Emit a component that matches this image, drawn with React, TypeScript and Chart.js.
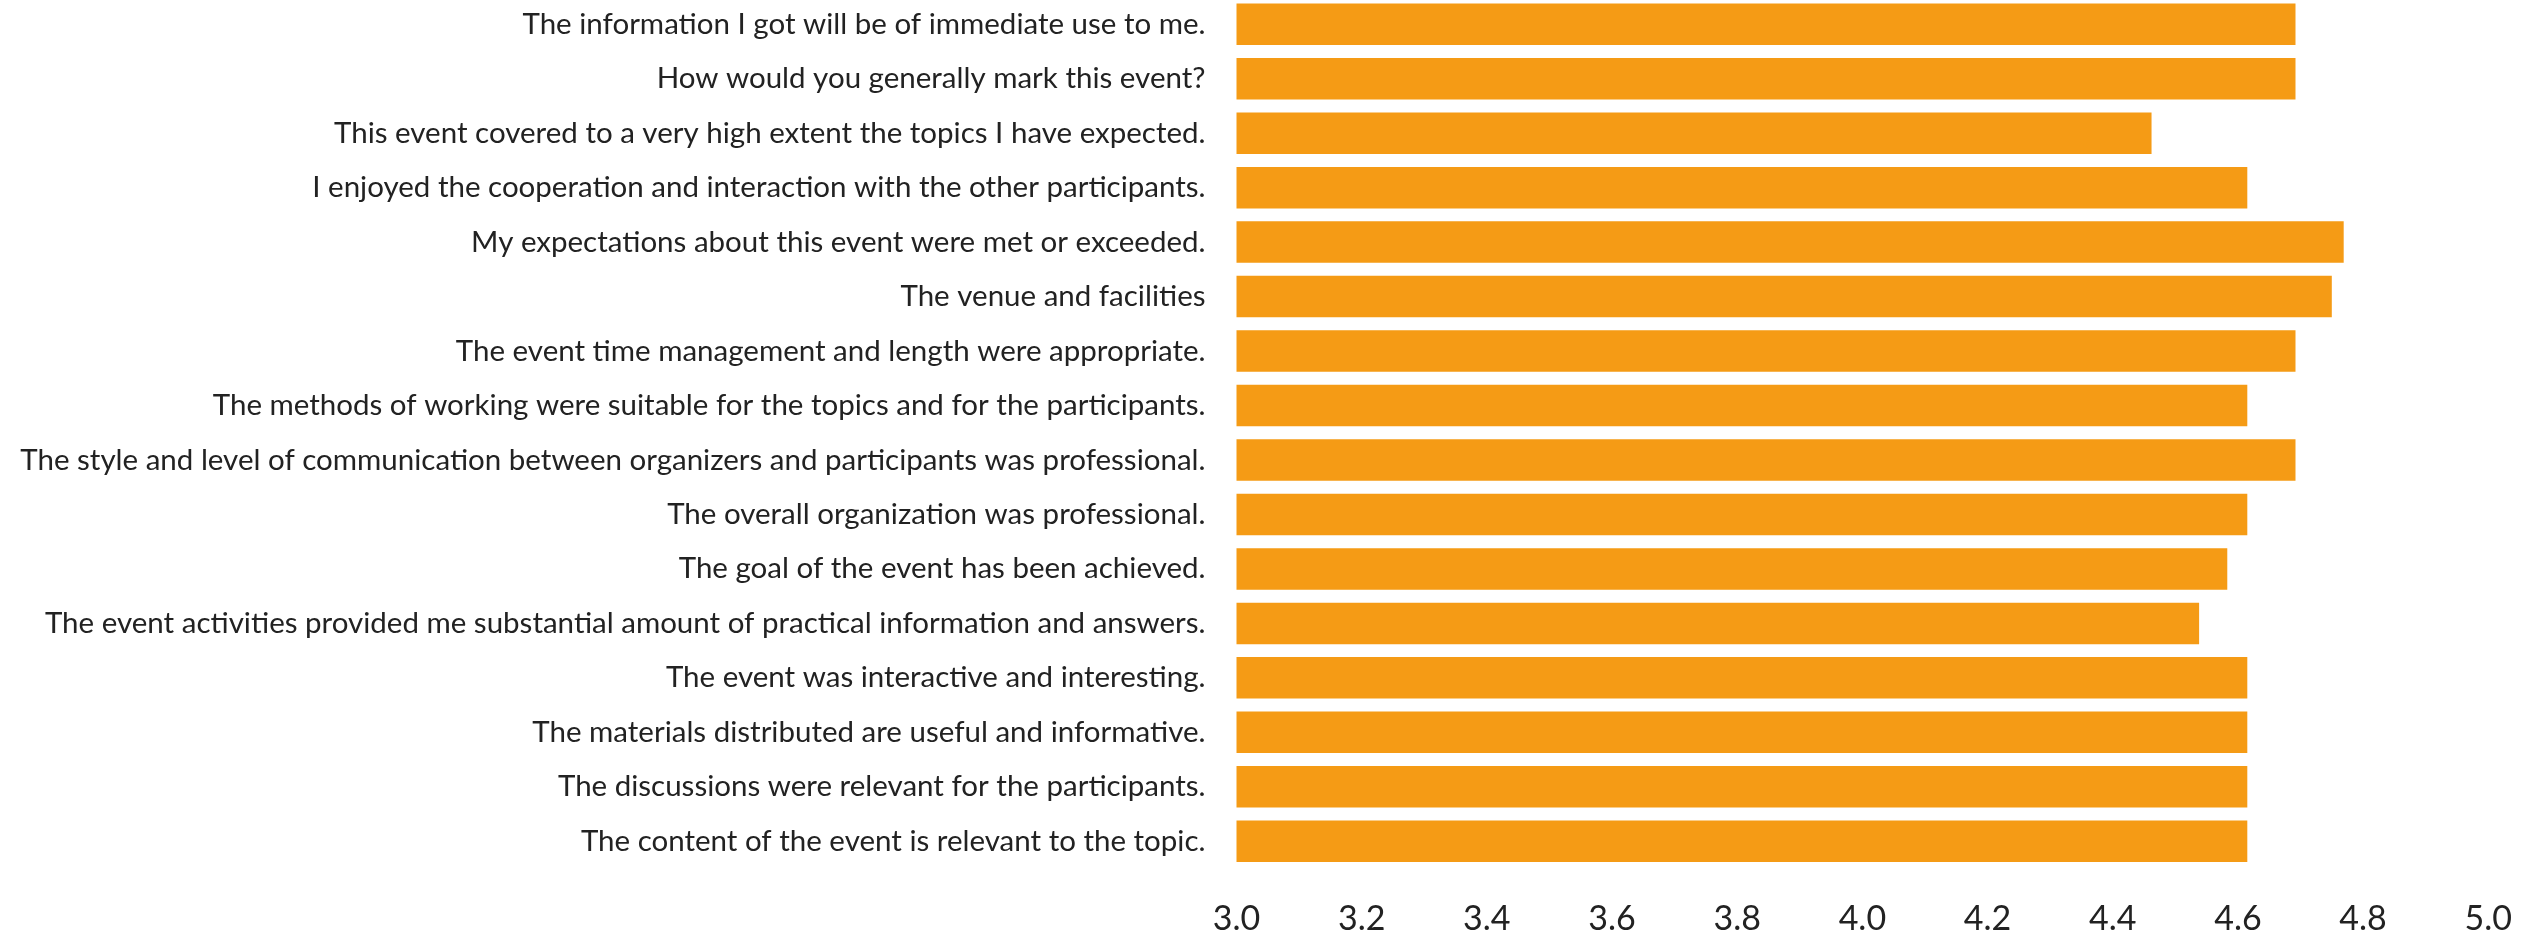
import React, { useEffect, useRef } from "react";
import { Chart, registerables } from "chart.js";

Chart.register(...registerables);

const categories: string[] = [
  "The information I got will be of immediate use to me.",
  "How would you generally mark this event?",
  "This event covered to a very high extent the topics I have expected.",
  "I enjoyed the cooperation and interaction with the other participants.",
  "My expectations about this event were met or exceeded.",
  "The venue and facilities",
  "The event time management and length were appropriate.",
  "The methods of working were suitable for the topics and for the participants.",
  "The style and level of communication between organizers and participants was professional.",
  "The overall organization was professional.",
  "The goal of the event has been achieved.",
  "The event activities provided me substantial amount of practical information and answers.",
  "The event was interactive and interesting.",
  "The materials distributed are useful and informative.",
  "The discussions were relevant for the participants.",
  "The content of the event is relevant to the topic.",
];

const scores: number[] = [
  4.692, 4.692, 4.462, 4.615, 4.769, 4.75, 4.692, 4.615, 4.692, 4.615, 4.583, 4.538, 4.615,
  4.615, 4.615, 4.615,
];

const xMin = 3.0;
const xMax = 5.0;
const xStep = 0.2;

export default function App() {
  const ref = useRef<HTMLCanvasElement | null>(null);

  useEffect(() => {
    if (!ref.current) return;
    const chart = new Chart(ref.current, {
      type: "bar",
      data: {
        labels: categories,
        datasets: [
          {
            data: scores,
            backgroundColor: "#F59B15",
            borderWidth: 0,
            barPercentage: 0.762,
            categoryPercentage: 1,
          },
        ],
      },
      options: {
        indexAxis: "y",
        animation: false,
        responsive: false,
        maintainAspectRatio: false,
        layout: { padding: { left: 0, right: 35, top: 0, bottom: 0 } },
        plugins: {
          legend: { display: false },
          tooltip: { enabled: false },
          title: { display: false },
        },
        scales: {
          x: {
            min: xMin,
            max: xMax,
            grid: { display: false, drawTicks: false },
            border: { display: false },
            ticks: {
              stepSize: xStep,
              color: "#222",
              padding: 30,
              font: { family: "Lato", size: 34 },
              callback: (v: any) => Number(v).toFixed(1),
            },
            afterFit: (s: any) => {
              s.height = 62.5;
            },
          },
          y: {
            grid: { display: false, drawTicks: false },
            border: { display: false },
            ticks: {
              color: "#222",
              padding: 31,
              autoSkip: false,
              font: { family: "Lato", size: 29.5 },
            },
            afterFit: (s: any) => {
              s.width = 1236.5;
              s.paddingTop = 0;
              s.paddingBottom = 0;
            },
          },
        },
      },
    });
    return () => chart.destroy();
  }, []);

  return (
    <div style={{ position: "absolute", left: 0, top: -3, width: 2542, height: 934, background: "#fff" }}>
      <canvas ref={ref} width={2542} height={934} style={{ display: "block" }} />
    </div>
  );
}
